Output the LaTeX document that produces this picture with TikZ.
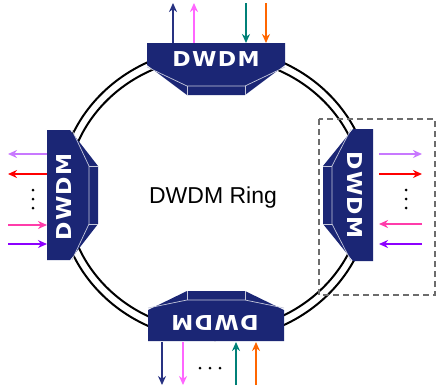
\documentclass[tikz,border=0pt]{standalone}
\usepackage{fontspec}
\setmainfont{Liberation Sans}
\newfontfamily\boxfont[LetterSpace=6]{DejaVu Sans}
\usetikzlibrary{arrows.meta}
\definecolor{boxblue}{RGB}{27,38,117}
\definecolor{navyarr}{RGB}{40,50,130}
\definecolor{pinkarr}{RGB}{255,102,255}
\definecolor{tealarr}{RGB}{0,128,120}
\definecolor{orangearr}{RGB}{255,102,0}
\definecolor{lilacarr}{RGB}{200,120,255}
\definecolor{redarr}{RGB}{255,0,0}
\definecolor{rosearr}{RGB}{255,60,170}
\definecolor{purplearr}{RGB}{140,0,255}
\tikzstyle{ring}=[line width=2pt, black]
\tikzstyle{sig}=[line width=2.4pt, -{Stealth[length=9pt,width=8pt]}]
\tikzstyle{boxlabel}=[font=\boxfont\bfseries\fontsize{20.5}{20.5}\selectfont, text=white, inner sep=0pt]
\tikzstyle{bevel}=[draw=white!75!boxblue, line width=0.7pt]
\tikzstyle{dot}=[fill=black, draw=none]
% one DWDM node: origin, rotation, half length, rectangle depth, total depth
\newcommand{\dwdmbox}[5]{%
  \begin{scope}[shift={#1}, rotate=#2]
    \fill[boxblue] (-#3,0) -- (#3,0) -- (#3,#4) -- (29,#5) -- (-29,#5) -- (-#3,#4) -- cycle;
    \draw[bevel] (-#3,#4+2) -- (-29,#5-9) -- (29,#5-9) -- (#3,#4+2);
    \draw[bevel] (-29,#5-9) -- (-29,#5) (29,#5-9) -- (29,#5);
  \end{scope}}

\begin{document}
\begin{tikzpicture}[x=1pt, y=-1pt]

  \useasboundingbox (0,0) rectangle (436,386);

  % ring
  \draw[ring] (215,194) ellipse [x radius=156pt, y radius=146pt];
  \draw[ring] (215,194) ellipse [x radius=148pt, y radius=137pt];

  % dashed frame round the right node
  \draw[gray!85!black, line width=1.2pt, dash pattern=on 6pt off 4pt] (319,119) rectangle (435,295);

  \dwdmbox{(216,43)}{0}{69}{22}{52}
  \dwdmbox{(216,341)}{180}{68}{31}{50}
  \dwdmbox{(47,195)}{90}{65}{23}{51}
  \dwdmbox{(373,195)}{-90}{66}{20}{50}

  \node[boxlabel] (topname) at (216,59) {\scalebox{1.08}[1]{DWDM}};
  \node[boxlabel, rotate=180] (botname) at (215,323) {\scalebox{1.08}[1]{DWDM}};
  \node[boxlabel, rotate=90] (leftname) at (64,197) {\scalebox{1.08}[1]{DWDM}};
  \node[boxlabel, rotate=-90] (rightname) at (355,195) {\scalebox{1.08}[1]{DWDM}};

  \node[anchor=base, font=\fontsize{23}{23}\selectfont, inner sep=0pt] (ringname) at (213,203) {DWDM Ring};

  % top and bottom channels
  \foreach \x/\col/\ya/\yb in {173/navyarr/43/3, 194/pinkarr/43/3, 246/tealarr/3/43, 266/orangearr/3/43} {
    \coordinate (tp\x a) at (\x,\ya);
    \coordinate (tp\x b) at (\x,\yb);
    \draw[sig, \col] (tp\x a) -- (tp\x b);
  }
  \foreach \x/\col/\ya/\yb in {162/navyarr/342/385, 183/pinkarr/342/385, 236/tealarr/385/342, 256/orangearr/385/342} {
    \coordinate (bt\x a) at (\x,\ya);
    \coordinate (bt\x b) at (\x,\yb);
    \draw[sig, \col] (bt\x a) -- (bt\x b);
  }

  % left and right channels
  \foreach \y/\col/\xa/\xb in {154/lilacarr/47/8, 174/redarr/47/8, 225/rosearr/8/47, 244/purplearr/8/47} {
    \coordinate (lf\y a) at (\xa,\y);
    \coordinate (lf\y b) at (\xb,\y);
    \draw[sig, \col] (lf\y a) -- (lf\y b);
  }
  \foreach \y/\col/\xa/\xb in {154/lilacarr/379/422, 174/redarr/379/422, 224/rosearr/422/379, 244/purplearr/422/379} {
    \coordinate (rt\y a) at (\xa,\y);
    \coordinate (rt\y b) at (\xb,\y);
    \draw[sig, \col] (rt\y a) -- (rt\y b);
  }

  % dots
  \foreach \x in {200,210,220} \fill[dot] (\x,368) circle (1.5pt);
  \foreach \y in {190,199,208} {
    \fill[dot] (33,\y) circle (1.5pt);
    \fill[dot] (406,\y) circle (1.5pt);
  }

\end{tikzpicture}
\end{document}
